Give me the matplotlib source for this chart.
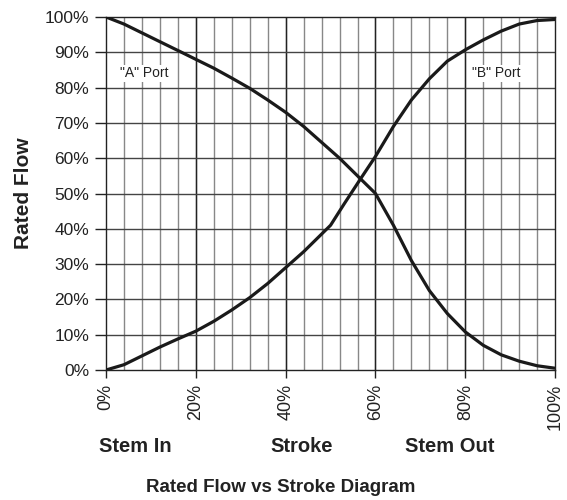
import matplotlib.pyplot as plt
import numpy as np

# stroke positions (%) and rated flow (%)
a_x = [0, 4, 8, 12, 16.5, 20, 24, 28, 32, 36, 40, 44, 48, 52, 56, 60, 64, 68, 72, 76, 80, 84, 88, 92, 96, 100]
a_y = [100, 98, 95.5, 93, 90.2, 88, 85.5, 82.7, 79.8, 76.5, 73, 69, 64.5, 60, 55, 50, 41, 31, 22.5, 16, 10.8, 7, 4.3, 2.5, 1.2, 0.5]
b_x = [0, 4, 8, 12, 16, 20, 24, 28, 32, 36, 40, 44, 48, 50, 53, 56.6, 60, 64, 68, 72, 76, 80, 84, 88, 92, 96, 100]
b_y = [0, 1.5, 4, 6.5, 8.8, 11, 13.8, 17, 20.5, 24.5, 29, 33.5, 38.5, 41, 47, 54, 60.5, 69, 76.5, 82.5, 87.5, 90.7, 93.5, 96, 98, 99, 99.3]

x_ticks = [0, 20, 40, 60, 80, 100]
y_ticks = [0, 10, 20, 30, 40, 50, 60, 70, 80, 90, 100]

plt.rcParams['font.family'] = ['Liberation Sans', 'DejaVu Sans']

fig = plt.figure(figsize=(5.67, 5.0), dpi=100)
ax = fig.add_axes([0.187, 0.26, 0.792, 0.706])

# grid: minor verticals every 4%, major every 20%, horizontals every 10%
for xv in np.arange(4, 100, 4):
    ax.axvline(xv, color='#888888', lw=1.0, zorder=1)
for xv in x_ticks[1:-1]:
    ax.axvline(xv, color='#222222', lw=1.0, zorder=1)
for yv in y_ticks[1:-1]:
    ax.axhline(yv, color='#444444', lw=1.0, zorder=1)

ax.plot(a_x, a_y, color='#1a1a1a', lw=2.3, zorder=3, solid_capstyle='butt')
ax.plot(b_x, b_y, color='#1a1a1a', lw=2.3, zorder=3, solid_capstyle='butt')

ax.text(3, 84, '"A" Port', fontsize=10, color='#222222', va='center', ha='left',
        bbox=dict(facecolor='white', edgecolor='none', pad=1))
ax.text(81.5, 84, '"B" Port', fontsize=10, color='#222222', va='center', ha='left',
        bbox=dict(facecolor='white', edgecolor='none', pad=1))

ax.set_xlim(0, 100)
ax.set_ylim(0, 100)
ax.set_xticks(x_ticks)
ax.set_xticklabels([f'{v}%' for v in x_ticks], rotation=90, fontsize=13, color='#222222')
ax.set_yticks(y_ticks)
ax.set_yticklabels([f'{v}%' for v in y_ticks], fontsize=12.5, color='#222222')
ax.tick_params(axis='x', length=6, width=1, color='#222222', pad=4)
ax.tick_params(axis='y', length=8, width=1, color='#222222', pad=4)
for s in ax.spines.values():
    s.set_color('#222222')
    s.set_linewidth(1.0)

ax.set_ylabel('Rated Flow', fontsize=15, fontweight='bold', color='#222222')
ax.yaxis.set_label_coords(-0.163, 0.5)

fig.text(135 / 567, 1 - 447 / 500, 'Stem In', fontsize=14.5, fontweight='bold', color='#222222',
         ha='center', va='center')
fig.text(302 / 567, 1 - 447 / 500, 'Stroke', fontsize=14.5, fontweight='bold', color='#222222',
         ha='center', va='center')
fig.text(450 / 567, 1 - 447 / 500, 'Stem Out', fontsize=14.5, fontweight='bold', color='#222222',
         ha='center', va='center')
fig.text(281 / 567, 1 - 488 / 500, 'Rated Flow vs Stroke Diagram', fontsize=13.5, fontweight='bold',
         color='#222222', ha='center', va='center')

fig.savefig('out.png', dpi=100)
